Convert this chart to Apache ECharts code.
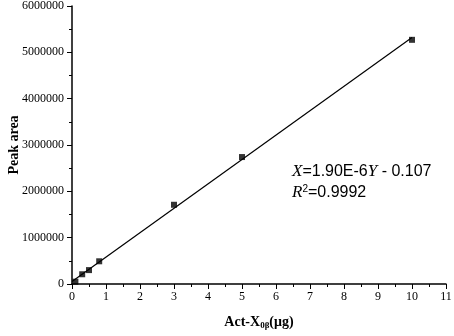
<!DOCTYPE html>
<html>
<head>
<meta charset="utf-8">
<script src="https://cdn.jsdelivr.net/npm/echarts@6/dist/echarts.min.js"></script>
<style>
  html, body { margin: 0; padding: 0; background: #fff; }
  #chart { width: 454px; height: 336px; }
</style>
</head>
<body>
<div id="chart"></div>
<script>
// measured points (Act-X amount in ug, peak area)
const amounts = [0.1, 0.3, 0.5, 0.8, 3, 5, 10];
const peakAreas = [50000, 210000, 300000, 490000, 1710000, 2740000, 5270000];
// fitted line end points
const fitX = [0, 10];
const fitY = [56000, 5320000];

const serif = 'Liberation Serif, Times New Roman, serif';
const sans = 'Liberation Sans, Arial, sans-serif';

const chart = echarts.init(document.getElementById('chart'));
chart.setOption({
  animation: false,
  grid: { left: 72, right: 8, top: 6, bottom: 52, containLabel: false, outerBoundsMode: 'none' },
  xAxis: {
    type: 'value', min: 0, max: 11, interval: 1,
    name: '{b|Act-X}{s|0β}{b|(μg)}', nameLocation: 'middle', nameGap: 30,
    nameMoveOverlap: false,
    nameTextStyle: {
      rich: {
        b: { fontFamily: serif, fontWeight: 'bold', fontSize: 14, color: '#000' },
        s: { fontFamily: serif, fontWeight: 'bold', fontSize: 9, color: '#000', verticalAlign: 'bottom', padding: [7, 0, 0, 0] }
      }
    },
    axisLine: { lineStyle: { color: '#000', width: 1.5 } },
    axisTick: { length: 5, lineStyle: { color: '#000' } },
    minorTick: { show: true, splitNumber: 2, length: 3, lineStyle: { color: '#000' } },
    axisLabel: { fontFamily: serif, fontSize: 12, color: '#000', margin: 7 },
    splitLine: { show: false }
  },
  yAxis: {
    type: 'value', min: 0, max: 6000000, interval: 1000000,
    name: 'Peak area', nameLocation: 'middle', nameGap: 51,
    nameMoveOverlap: false,
    nameTextStyle: { fontFamily: serif, fontWeight: 'bold', fontSize: 14, color: '#000' },
    axisLine: { show: true, lineStyle: { color: '#000', width: 1.5 } },
    axisTick: { show: true, length: 5, lineStyle: { color: '#000' } },
    minorTick: { show: true, splitNumber: 2, length: 3, lineStyle: { color: '#000' } },
    axisLabel: { fontFamily: serif, fontSize: 12, color: '#000', margin: 8, formatter: v => String(v) },
    splitLine: { show: false }
  },
  series: [
    {
      type: 'line',
      data: fitX.map((x, i) => [x, fitY[i]]),
      symbol: 'none',
      lineStyle: { color: '#000', width: 1.2 },
      z: 2
    },
    {
      type: 'scatter',
      data: amounts.map((x, i) => [x, peakAreas[i]]),
      symbol: 'rect', symbolSize: 6,
      itemStyle: { color: '#000' },
      z: 3
    }
  ],
  graphic: [
    {
      type: 'text', left: 292, top: 163,
      style: {
        text: '{i|X}{n|=1.90E-6}{i|Y}{n| - 0.107}',
        rich: {
          i: { fontFamily: serif, fontStyle: 'italic', fontSize: 17, fill: '#000' },
          n: { fontFamily: sans, fontSize: 16, fill: '#000' }
        }
      }
    },
    {
      type: 'text', left: 292, top: 184,
      style: {
        text: '{i|R}{s|2}{n|=0.9992}',
        rich: {
          i: { fontFamily: serif, fontStyle: 'italic', fontSize: 17, fill: '#000' },
          s: { fontFamily: sans, fontSize: 10, fill: '#000', verticalAlign: 'top', padding: [0, 0, 8, 0] },
          n: { fontFamily: sans, fontSize: 16, fill: '#000' }
        }
      }
    }
  ]
});
</script>
</body>
</html>
